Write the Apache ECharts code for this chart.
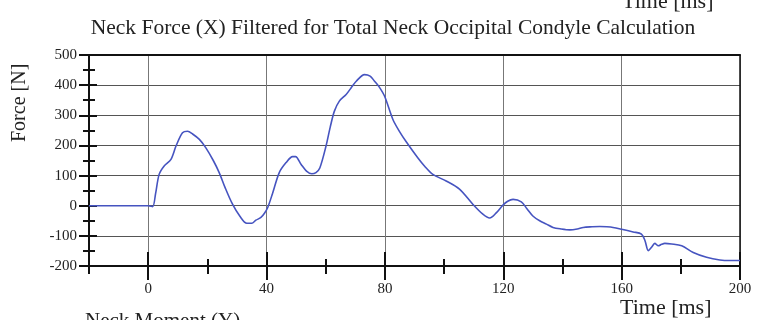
<!DOCTYPE html>
<html>
<head>
<meta charset="utf-8">
<script src="https://cdn.jsdelivr.net/npm/echarts@6/dist/echarts.min.js"></script>
<style>
html,body{margin:0;padding:0;background:#fff;}
#chart{width:757px;height:320px;}
</style>
</head>
<body>
<div id="chart"></div>
<script>
var titleText = 'Neck Force (X) Filtered for Total Neck Occipital Condyle Calculation';
var xAxisName = 'Time [ms]';
var yAxisName = 'Force [N]';
var nextTitle = 'Neck Moment (Y)';

var timeMs = [-20,-10,0,1.5,2.5,3.7,5.4,7.7,9.4,11.6,13.3,15,17.3,19.5,22,24,26,28.5,31,33.3,35,36.4,38.1,39.3,40.4,42,44.3,46.6,48.8,49.8,51.7,53.5,55.3,56.7,58,60.1,61.5,62.9,64.6,66.9,68.5,70.3,73.1,75,76.5,78,79.9,82.7,85,87.2,91.1,93.5,96.2,100.7,105.2,109.7,113.1,115.4,117.7,119.9,121.5,123.3,126.1,128,130,132.3,134.6,136.8,139.5,142.5,145,147,150,152.6,155,157.1,160,163.9,166.7,167.9,169,170.1,171.2,172.4,173.5,174.6,176.9,180.3,184.2,188.7,193.2,196.6,200];
var forceN = [0,0,0,-3,40,104,132,154,198,242,247,238,220,192,150,110,60,5,-35,-58,-58,-48,-39,-25,-6,40,110,143,163,163,137,115,106,110,125,198,260,313,347,369,390,413,435,430,413,395,363,286,245,212,159,130,104,82,55,5,-28,-41,-23,2,15,21,13,-10,-34,-50,-61,-72,-77,-80,-77,-72,-70,-69,-70,-72,-78,-87,-94,-116,-149,-138,-125,-133,-128,-125,-127,-133,-155,-171,-180,-182,-182];

var xMajorTicks = [0,40,80,120,160,200];
var xMinorTicks = [-20,20,60,100,140,180];
var yMajorTicks = [-200,-100,0,100,200,300,400,500];
var yMinorTicks = [-150,-50,50,150,250,350,450];

var serif = "'Liberation Serif','Times New Roman',serif";
var X_MIN = -20, X_MAX = 200, Y_MIN = -200, Y_MAX = 500;

function xAx(opts) {
  var base = {
    type: 'value', min: X_MIN, max: X_MAX, position: 'bottom', offset: 0,
    axisLine: {show: false, onZero: false}, axisLabel: {show: false}, splitLine: {show: false},
    axisTick: {show: false}
  };
  return Object.assign(base, opts);
}
function yAx(opts) {
  var base = {
    type: 'value', min: Y_MIN, max: Y_MAX, position: 'left', offset: 0,
    axisLine: {show: false, onZero: false}, axisLabel: {show: false}, splitLine: {show: false},
    axisTick: {show: false}
  };
  return Object.assign(base, opts);
}

var chart = echarts.init(document.getElementById('chart'), null, {renderer: 'canvas'});
chart.setOption({
  animation: false,
  backgroundColor: '#fff',
  title: {
    text: titleText, left: 388, textAlign: 'center', top: 12,
    textStyle: {fontFamily: serif, fontSize: 21.5, fontWeight: 'normal', color: '#222'}
  },
  graphic: [
    {type: 'text', left: 622, top: -9, style: {text: xAxisName, font: "22px " + serif, fill: '#222'}},
    {type: 'text', left: 620, top: 297, style: {text: xAxisName, font: "22px " + serif, fill: '#222'}},
    {type: 'text', left: 85, top: 311, style: {text: nextTitle, font: "21px " + serif, fill: '#222'}},
    {type: 'text', x: 10, y: 142, rotation: Math.PI / 2, style: {text: yAxisName, font: "20px " + serif, fill: '#222'}}
  ],
  grid: {left: 89, right: 17, top: 55, bottom: 54},
  xAxis: [
    xAx({
      axisLine: {show: true, onZero: false, lineStyle: {color: '#111', width: 2}},
      axisTick: {show: true, length: 14, customValues: xMajorTicks, lineStyle: {color: '#111', width: 2}},
      axisLabel: {show: true, customValues: xMajorTicks, margin: 16, fontFamily: serif, fontSize: 15, color: '#222'},
      splitLine: {show: true, lineStyle: {color: '#777', width: 1}}
    }),
    xAx({axisTick: {show: true, inside: true, length: 14, customValues: xMajorTicks, lineStyle: {color: '#111', width: 2}}}),
    xAx({axisTick: {show: true, length: 8, customValues: xMinorTicks, lineStyle: {color: '#111', width: 2}}}),
    xAx({axisTick: {show: true, inside: true, length: 7, customValues: xMinorTicks, lineStyle: {color: '#111', width: 2}}}),
    xAx({position: 'top', axisLine: {show: true, onZero: false, lineStyle: {color: '#111', width: 2}}})
  ],
  yAxis: [
    yAx({
      interval: 100,
      axisLine: {show: true, onZero: false, lineStyle: {color: '#111', width: 2}},
      axisTick: {show: true, length: 10, lineStyle: {color: '#111', width: 2}},
      axisLabel: {show: true, margin: 12, fontFamily: serif, fontSize: 15, color: '#222'},
      splitLine: {show: true, lineStyle: {color: '#555', width: 1.2}}
    }),
    yAx({axisTick: {show: true, inside: true, length: 8, customValues: yMajorTicks, lineStyle: {color: '#111', width: 2}}}),
    yAx({axisTick: {show: true, length: 6, customValues: yMinorTicks, lineStyle: {color: '#111', width: 2}}}),
    yAx({axisTick: {show: true, inside: true, length: 6, customValues: yMinorTicks, lineStyle: {color: '#111', width: 2}}}),
    yAx({position: 'right', axisLine: {show: true, onZero: false, lineStyle: {color: '#111', width: 1.5}}})
  ],
  series: [{
    type: 'line',
    xAxisIndex: 0, yAxisIndex: 0,
    data: timeMs.map(function (t, i) { return [t, forceN[i]]; }),
    showSymbol: false, smooth: 0.3,
    lineStyle: {color: '#4654c0', width: 1.6}
  }]
});
</script>
</body>
</html>
